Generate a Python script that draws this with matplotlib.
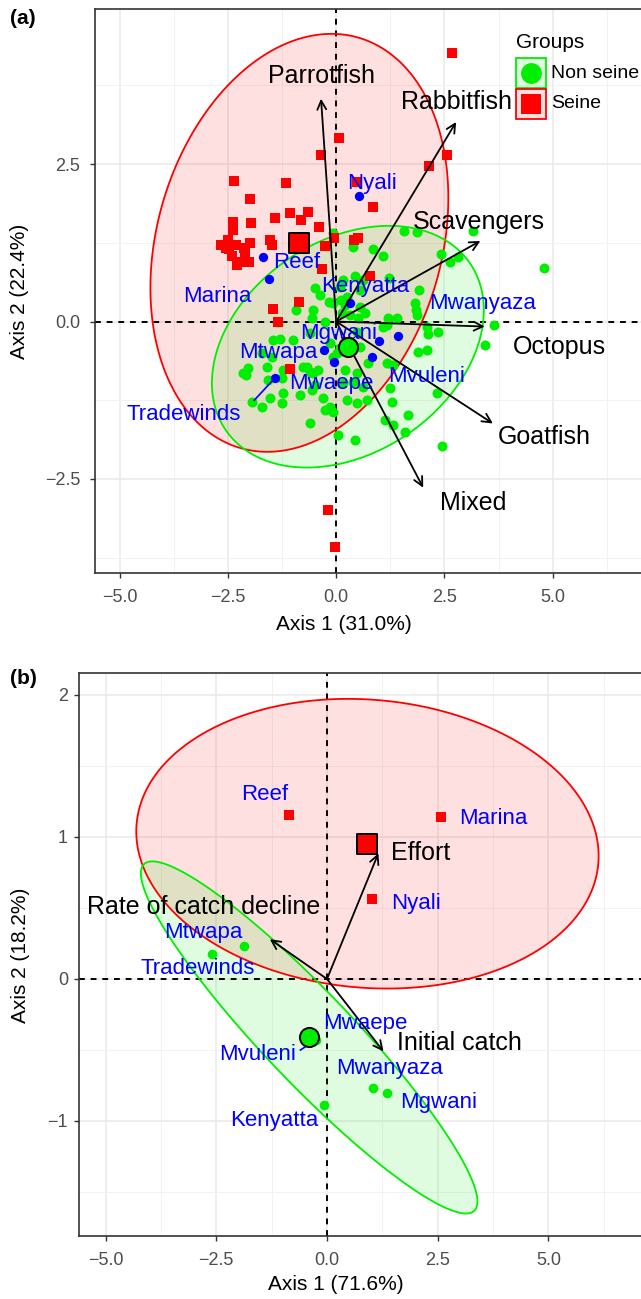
import numpy as np
import matplotlib.pyplot as plt
from matplotlib.patches import Polygon, Rectangle
from matplotlib.lines import Line2D

plt.rcParams['font.family'] = ['Liberation Sans', 'DejaVu Sans']

W, H = 641, 1299
RED = '#FF0000'
GREEN = '#00EE00'
BLUE = '#0000FF'

# ---------------- (a) catch composition ----------------
seine_a_x = [2.67, 0.06, -0.35, 2.56, 2.14, 0.85, 0.48, -2.36, -1.15, -1.98,
             -1.42, -1.06, -0.66, -0.82, -0.39, -2.38, -2.38, -1.96, -2.66, -2.47,
             -2.31, -1.99, -2.40, -2.22, -2.01, -2.29, -2.10, -1.53, -1.48, -0.25,
             -0.32, -0.06, 0.42, 0.51, 0.79, -0.87, -1.47, -0.18, -0.02, -1.34,
             -1.06, -2.54, -2.12, -2.49]
seine_a_y = [4.26, 2.91, 2.65, 2.64, 2.47, 1.82, 2.22, 2.24, 2.20, 1.94,
             1.64, 1.72, 1.74, 1.62, 1.50, 1.58, 1.45, 1.57, 1.21, 1.15,
             1.21, 1.24, 1.04, 0.94, 0.94, 0.90, 1.09, 1.30, 1.22, 1.20,
             0.84, 1.32, 1.30, 1.33, 0.72, 0.31, 0.20, -3.00, -3.59, -0.01,
             -0.75, 1.17, 1.17, 1.29]

nonseine_a_x = [1.57, 1.87, 3.16, 4.80, -0.07, 0.39, 0.85, 1.09, 2.42, 2.63,
                2.82, 0.16, 0.44, 1.22, 1.92, -0.48, -0.53, -0.16, 0.12, 0.21,
                0.55, 0.67, 0.51, 0.32, 1.20, 1.41, 1.82, 1.85, 1.87, 2.10,
                2.36, 2.12, 1.89, 2.10, 1.09, 1.18, 1.18, 1.32, 0.74, -0.60,
                -0.14, -0.07, -0.67, -0.53, 0.48, 0.55, 3.65, 3.44, 1.25, 2.33,
                1.29, 1.66, 1.13, 1.32, 1.59, 2.45, -1.45, -1.29, -0.99, -1.71,
                -1.48, -2.03, -2.08, -2.15, -1.59, -1.22, -1.25, -1.57, -0.76, -0.60,
                -0.42, -0.83, -0.55, -0.48, -1.94, -1.71, -1.52, -1.25, -1.22, -0.30,
                -0.14, -0.25, -0.07, -0.60, 0.05, 0.44, 0.21, 0.48, 0.39, 0.62,
                0.16, 0.25, 0.48, 0.72, 0.02, 0.09, -0.92, -1.34, 0.09, 0.25,
                -0.07, 0.14, 0.55, 0.62, -0.37, -0.25, -0.55]
nonseine_a_y = [1.44, 1.42, 1.44, 0.85, 1.40, 1.18, 1.15, 1.04, 1.07, 0.94,
                1.02, 0.66, 0.72, 0.69, 0.50, 0.53, 0.18, 0.31, 0.34, 0.26,
                0.23, 0.13, 0.05, 0.10, 0.05, 0.05, 0.29, 0.18, 0.10, -0.09,
                -0.17, -0.20, -0.49, -0.46, -0.09, -0.06, -0.66, -0.69, -0.66, -0.19,
                -0.34, -0.57, -0.73, -0.82, -0.17, -0.41, -0.06, -0.38, -1.06, -1.14,
                -1.28, -1.49, -1.57, -1.65, -1.76, -1.97, -0.30, -0.27, -0.30, -0.50,
                -0.57, -0.74, -0.85, -0.82, -0.73, -0.77, -0.90, -0.93, -0.73, -0.80,
                -0.77, -1.17, -1.09, -1.01, -1.28, -1.36, -1.22, -1.30, -1.14, -1.22,
                -1.36, -1.41, -1.44, -1.62, -1.81, -1.89, -0.77, -0.82, -0.96, -1.04,
                -0.98, -1.25, -1.30, -1.25, -0.50, -0.42, 0.18, 0.00, 0.55, 0.39,
                0.29, 0.13, 0.50, 0.66, 0.42, -0.01, 0.05]

sites = ['Nyali', 'Reef', 'Marina', 'Kenyatta', 'Mwanyaza', 'Mgwani',
         'Mtwapa', 'Mwaepe', 'Mvuleni', 'Tradewinds']
site_a_x = [0.52, -1.69, -1.56, 0.33, 1.42, 1.00, -0.27, -0.06, 0.83, -1.42]
site_a_y = [1.99, 1.03, 0.67, 0.30, -0.23, -0.31, -0.46, -0.64, -0.57, -0.90]
site_a_lx = [0.83, -0.92, -2.75, 0.67, 3.39, 0.05, -1.34, -0.12, 2.08, -3.53]
site_a_ly = [2.20, 0.93, 0.40, 0.55, 0.28, -0.19, -0.50, -0.98, -0.87, -1.47]

vars_a = ['Parrotfish', 'Rabbitfish', 'Scavengers', 'Octopus', 'Goatfish', 'Mixed']
load_a_x = [-0.35, 2.77, 3.33, 3.43, 3.62, 2.01]
load_a_y = [3.54, 3.17, 1.28, -0.08, -1.62, -2.64]
load_a_lx = [-0.35, 2.77, 3.30, 5.15, 4.80, 3.16]
load_a_ly = [3.90, 3.49, 1.58, -0.41, -1.83, -2.88]

# group centroids and ellipse spreads (half extents sx, sy and covariance sxy)
cent_a = {'Seine': (-0.85, 1.25), 'Non seine': (0.27, -0.40)}
ell_a = {'Seine': (3.44, 3.32, 2.46), 'Non seine': (3.14, 1.92, 1.82)}

# ---------------- (b) catch trends ----------------
seine_b_sites = ['Reef', 'Marina', 'Nyali']
seine_b_x = [-0.85, 2.57, 1.02]
seine_b_y = [1.155, 1.143, 0.56]
nonseine_b_sites = ['Mtwapa', 'Tradewinds', 'Kenyatta', 'Mwanyaza', 'Mgwani', 'Mwaepe', 'Mvuleni']
nonseine_b_x = [-1.88, -2.60, -0.07, 1.04, 1.36, -0.42, -0.25]
nonseine_b_y = [0.232, 0.176, -0.89, -0.77, -0.80, -0.40, -0.43]

site_b = ['Reef', 'Marina', 'Nyali', 'Mtwapa', 'Tradewinds', 'Mwaepe',
          'Mvuleni', 'Mwanyaza', 'Mgwani', 'Kenyatta']
site_b_lx = [-1.41, 3.76, 2.00, -2.80, -2.93, 0.86, -1.57, 1.42, 2.52, -1.20]
site_b_ly = [1.30, 1.13, 0.535, 0.326, 0.075, -0.31, -0.53, -0.63, -0.87, -1.00]

vars_b = ['Effort', 'Rate of catch decline', 'Initial catch']
load_b_x = [1.16, -1.29, 1.275]
load_b_y = [0.885, 0.28, -0.51]
load_b_lx = [2.12, -2.79, 2.98]
load_b_ly = [0.89, 0.505, -0.45]

ell_b = {'Seine': (5.22, 1.02, -0.45), 'Non seine': (3.80, 1.24, -4.39)}


def ellipse_xy(centre, sx, sy, sxy, n=300):
    t = np.linspace(0, 2 * np.pi, n)
    l21 = sxy / sx
    l22 = np.sqrt(sy ** 2 - l21 ** 2)
    x = centre[0] + sx * np.cos(t)
    y = centre[1] + l21 * np.cos(t) + l22 * np.sin(t)
    return np.column_stack([x, y])


def px_axes(fig, left, top, bottom):
    return fig.add_axes([left / W, 1 - bottom / H, 1 - left / W, (bottom - top) / H])


def style(ax, xlim, ylim, yticks, yticklabels, yminor, ypad):
    ax.set_xlim(xlim)
    ax.set_ylim(ylim)
    ax.set_xticks([-5, -2.5, 0, 2.5, 5])
    ax.set_xticklabels(['\u22125.0', '\u22122.5', '0.0', '2.5', '5.0'])
    ax.set_xticks([-3.75, -1.25, 1.25, 3.75, 6.25], minor=True)
    ax.set_yticks(yticks)
    ax.set_yticklabels(yticklabels)
    ax.set_yticks(yminor, minor=True)
    ax.grid(which='major', color='#EBEBEB', lw=1.2)
    ax.grid(which='minor', color='#F2F2F2', lw=0.7)
    ax.set_axisbelow(True)
    ax.tick_params(which='major', length=3.5, width=1, color='#333333',
                   labelcolor='#4D4D4D', labelsize=13)
    ax.tick_params(axis='x', pad=8)
    ax.tick_params(axis='y', pad=ypad)
    ax.tick_params(which='minor', length=0)
    for s in ['left', 'bottom', 'top']:
        ax.spines[s].set_color('#333333')
        ax.spines[s].set_linewidth(1.2)
    ax.spines['right'].set_visible(False)
    ax.axhline(0, color='black', ls=(0, (3, 3)), lw=1.4, zorder=1.5)
    ax.axvline(0, color='black', ls=(0, (3, 3)), lw=1.4, zorder=1.5)


def draw_ellipse(ax, centre, spread, color):
    xy = ellipse_xy(centre, *spread)
    ax.add_patch(Polygon(xy, closed=True, facecolor=color, alpha=0.12,
                         edgecolor='none', zorder=1))
    ax.add_patch(Polygon(xy, closed=True, facecolor='none', edgecolor=color,
                         lw=1.3, zorder=1.6))


def arrows(ax, xs, ys, names, lxs, lys, size):
    for x, y, name, lx, ly in zip(xs, ys, names, lxs, lys):
        ax.annotate('', xy=(x, y), xytext=(0, 0), zorder=5,
                    arrowprops=dict(arrowstyle='->', lw=1.3, color='black',
                                    mutation_scale=16, shrinkA=0, shrinkB=0))
        ax.text(lx, ly, name, ha='center', va='center', fontsize=size,
                color='black', zorder=6)


fig = plt.figure(figsize=(W / 100, H / 100), dpi=100)

# ---- panel (a) ----
ax1 = px_axes(fig, 95, 9.3, 573.3)
style(ax1, (-5.57, 7.04), (-4.0, 4.96), [-2.5, 0, 2.5],
      ['\u22122.5', '0.0', '2.5'], [-3.75, -1.25, 1.25, 3.75], 7)

draw_ellipse(ax1, cent_a['Seine'], ell_a['Seine'], RED)
draw_ellipse(ax1, cent_a['Non seine'], ell_a['Non seine'], GREEN)

ax1.scatter(nonseine_a_x, nonseine_a_y, s=52, marker='o', color=GREEN,
            linewidths=0, zorder=3)
ax1.scatter(seine_a_x, seine_a_y, s=60, marker='s', color=RED,
            linewidths=0, zorder=3)
ax1.scatter(site_a_x, site_a_y, s=45, marker='o', color=BLUE,
            linewidths=0, zorder=4)

arrows(ax1, load_a_x, load_a_y, vars_a, load_a_lx, load_a_ly, 18)

# Tradewinds label is pushed away from its point
i = sites.index('Tradewinds')
ax1.plot([site_a_x[i], -1.89], [site_a_y[i], -1.25], color=BLUE, lw=1.2, zorder=4)
for name, lx, ly in zip(sites, site_a_lx, site_a_ly):
    ax1.text(lx, ly, name, ha='center', va='center', fontsize=16,
             color=BLUE, zorder=7)

ax1.scatter(*cent_a['Non seine'], s=190, marker='o', color=GREEN,
            edgecolors='black', linewidths=1.4, zorder=8)
ax1.scatter(*cent_a['Seine'], s=210, marker='s', color=RED,
            edgecolors='black', linewidths=1.4, zorder=8)

fig.text(20 / W, 1 - 291 / H, 'Axis 2 (22.4%)', rotation=90, ha='center',
         va='center', fontsize=15)
fig.text(344 / W, 1 - 624 / H, 'Axis 1 (31.0%)', ha='center', va='center',
         fontsize=15)
fig.text(10 / W, 1 - 18 / H, '(a)', ha='left', va='center', fontsize=15,
         fontweight='bold')

# legend
fig.text(516 / W, 1 - 43 / H, 'Groups', ha='left', va='center', fontsize=15)
for k, (grp, col, mk, ms) in enumerate([('Non seine', GREEN, 'o', 15),
                                        ('Seine', RED, 's', 14.5)]):
    top = 58 + 31 * k
    fig.add_artist(Rectangle((516 / W, 1 - (top + 30) / H), 30 / W, 30 / H,
                             transform=fig.transFigure, facecolor=col, alpha=0.12,
                             edgecolor='none'))
    fig.add_artist(Rectangle((516 / W, 1 - (top + 30) / H), 30 / W, 30 / H,
                             transform=fig.transFigure, facecolor='none',
                             edgecolor=col, lw=1.3))
    fig.add_artist(Line2D([531 / W], [1 - (top + 15) / H], marker=mk,
                          markersize=ms, color=col, markeredgewidth=0,
                          transform=fig.transFigure))
    fig.text(551 / W, 1 - (top + 15) / H, grp, ha='left', va='center',
             fontsize=14)

# ---- panel (b) ----
ax2 = px_axes(fig, 79, 672.7, 1236)
style(ax2, (-5.6, 7.09), (-1.81, 2.157), [-1, 0, 1, 2],
      ['\u22121', '0', '1', '2'], [-1.5, -0.5, 0.5, 1.5], 4.5)

cent_b = {'Seine': (np.mean(seine_b_x), np.mean(seine_b_y)),
          'Non seine': (np.mean(nonseine_b_x), np.mean(nonseine_b_y))}
draw_ellipse(ax2, cent_b['Seine'], ell_b['Seine'], RED)
draw_ellipse(ax2, cent_b['Non seine'], ell_b['Non seine'], GREEN)

ax2.scatter(nonseine_b_x, nonseine_b_y, s=48, marker='o', color=GREEN,
            linewidths=0, zorder=3)
ax2.scatter(seine_b_x, seine_b_y, s=52, marker='s', color=RED,
            linewidths=0, zorder=3)

j = nonseine_b_sites.index('Mvuleni')
ax2.plot([-0.60, nonseine_b_x[j]], [-0.50, nonseine_b_y[j]], color=BLUE,
         lw=1.2, zorder=4)

ax2.scatter(*cent_b['Non seine'], s=190, marker='o', color=GREEN,
            edgecolors='black', linewidths=1.4, zorder=4.5)
ax2.scatter(*cent_b['Seine'], s=210, marker='s', color=RED,
            edgecolors='black', linewidths=1.4, zorder=4.5)

arrows(ax2, load_b_x, load_b_y, vars_b, load_b_lx, load_b_ly, 18)

for name, lx, ly in zip(site_b, site_b_lx, site_b_ly):
    ax2.text(lx, ly, name, ha='center', va='center', fontsize=16,
             color=BLUE, zorder=7)

fig.text(21 / W, 1 - 955 / H, 'Axis 2 (18.2%)', rotation=90, ha='center',
         va='center', fontsize=15)
fig.text(336 / W, 1 - 1284 / H, 'Axis 1 (71.6%)', ha='center', va='center',
         fontsize=15)
fig.text(10 / W, 1 - 678 / H, '(b)', ha='left', va='center', fontsize=15,
         fontweight='bold')

fig.savefig('out.png', dpi=100, facecolor='white')
